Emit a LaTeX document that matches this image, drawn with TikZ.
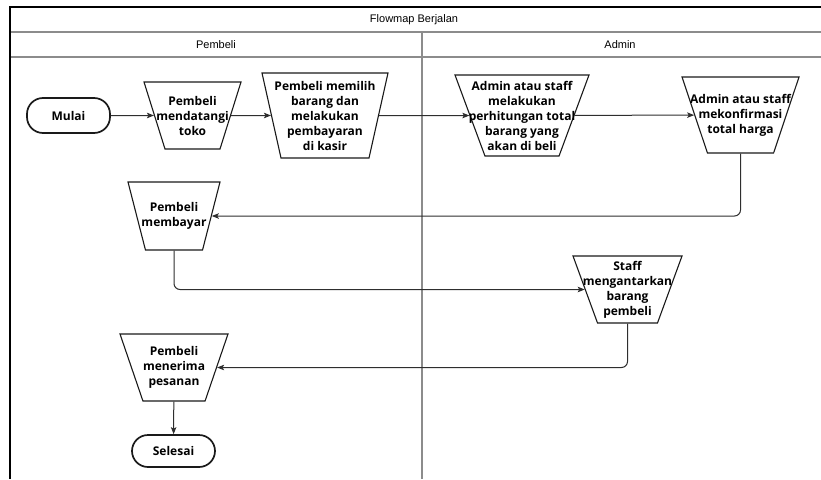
\documentclass[tikz,border=0pt]{standalone}
\usepackage{fontspec}
\setmainfont{Open Sans}
\newfontfamily\headfont{Liberation Sans}
\usetikzlibrary{shapes.geometric,arrows.meta}

\definecolor{ink}{HTML}{1A1A1A}
\definecolor{wire}{HTML}{2E2E2E}
\definecolor{rule}{HTML}{8C8C8C}

% label box of a fixed height (#1) that takes no horizontal room,
% so the shape's height is exactly #1 and its slant follows the angle
\newcommand{\stack}[2]{\makebox[0pt]{\parbox[c][#1][c]{5cm}{\centering #2}}}

\tikzset{
  proc/.style={shape=trapezium, shape border rotate=180,
    trapezium stretches body=true, draw=ink, line width=1.1pt,
    inner sep=0pt, fill=white,
    font=\bfseries\fontsize{12}{15}\selectfont},
  term/.style={rectangle, rounded corners=16pt, draw=ink, line width=1.7pt,
    inner sep=0pt, minimum width=83pt, font=\bfseries\fontsize{12}{15}\selectfont},
  flow/.style={draw=wire, line width=1pt, rounded corners=6pt,
    -{Stealth[length=7pt,width=5.5pt,inset=1.5pt]}},
  lanetext/.style={font=\headfont\fontsize{11}{13}\selectfont, inner sep=0pt}
}

\begin{document}
\begin{tikzpicture}[x=1pt,y=-1pt]
\useasboundingbox (0,0) rectangle (821,479);

% swimlane frame
\draw[rule, line width=2pt] (10,32) -- (821,32);
\draw[rule, line width=1.3pt] (10,57) -- (821,57);
\draw[rule, line width=1.2pt] (422,32) -- (422,479);
\draw[black, line width=1.2pt] (821,7) -- (10,7) -- (10,479);

\node[lanetext] (title) at (414,19.5) {Flowmap Berjalan};
\node[lanetext] (lane1) at (216,44.5) {Pembeli};
\node[lanetext] (lane2) at (620,44.5) {Admin};

% steps
\node[term, minimum height=35pt] (mulai) at (68.5,115.5) {Mulai};
\node[proc, trapezium angle=72.6, minimum width=97pt]
  (datang) at (192.5,115.5) {\stack{67pt}{Pembeli\\mendatangi\\toko}};
\node[proc, trapezium angle=77.4, minimum width=126pt]
  (pilih) at (325,115.5) {\stack{85pt}{Pembeli memilih\\barang dan\\melakukan\\pembayaran\\di kasir}};
\node[proc, trapezium angle=69.7, minimum width=134pt]
  (hitung) at (522,115.5) {\stack{81pt}{Admin atau staff\\melakukan\\perhitungan total\\barang yang\\akan di beli}};
\node[proc, trapezium angle=71.5, minimum width=117pt]
  (konfirm) at (740.5,115) {\stack{76pt}{Admin atau staff\\mekonfirmasi\\total harga}};
\node[proc, trapezium angle=75.6, minimum width=92pt]
  (bayar) at (174,216) {\stack{68pt}{Pembeli\\membayar}};
\node[proc, trapezium angle=69.9, minimum width=109pt]
  (antar) at (627.5,289.5) {\stack{67pt}{Staff\\mengantarkan\\barang\\pembeli}};
\node[proc, trapezium angle=71.1, minimum width=108pt]
  (terima) at (174,367.5) {\stack{67pt}{Pembeli\\menerima\\pesanan}};
\node[term, minimum height=32pt] (selesai) at (173.5,451) {Selesai};

% connectors
\draw[flow] (mulai) -- (datang);
\draw[flow] (datang) -- (pilih);
\draw[flow] (pilih) -- (hitung);
\draw[flow] (hitung) -- (konfirm);
\draw[flow] (konfirm.south) |- (bayar.east);
\draw[flow] (bayar.south) |- (antar.west);
\draw[flow] (antar.south) |- (terima.east);
\draw[flow] (terima) -- (selesai);
\end{tikzpicture}
\end{document}
